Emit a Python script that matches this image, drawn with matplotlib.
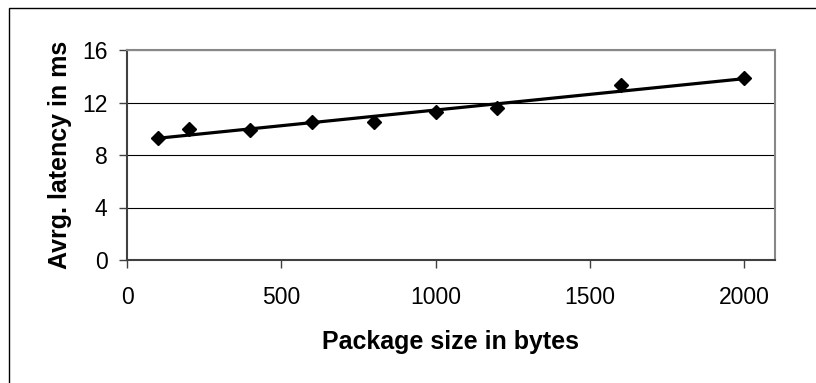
import matplotlib
matplotlib.use("Agg")
import matplotlib.pyplot as plt
import numpy as np
from matplotlib.patches import Rectangle

# values
package_size = [100, 200, 400, 600, 800, 1000, 1200, 1600, 2000]
avg_latency = [9.3, 9.95, 9.9, 10.5, 10.5, 11.3, 11.6, 13.3, 13.85]
x_ticks = [0, 500, 1000, 1500, 2000]
y_ticks = [0, 4, 8, 12, 16]

plt.rcParams["font.family"] = ["Liberation Sans", "DejaVu Sans"]

W, H = 816, 383
fig = plt.figure(figsize=(W / 100, H / 100), dpi=100)

# outer chart-area border (right and bottom edges run off the picture)
fig.patches.append(Rectangle((9 / W, -0.1), 1.2, (H - 8) / H + 0.1, transform=fig.transFigure,
                             fill=False, edgecolor="black", linewidth=1.0))

ax = fig.add_axes([127 / W, 1 - 260 / H, (775 - 127) / W, (260 - 50) / H])

# linear trend line through the points
coef = np.polyfit(package_size, avg_latency, 1)
x_fit = np.array([min(package_size), max(package_size)])
ax.plot(x_fit, np.polyval(coef, x_fit), color="black", linewidth=2.3, zorder=3)
ax.plot(package_size, avg_latency, linestyle="none", marker="D", markersize=6.8,
        color="black", zorder=4, clip_on=False)

ax.set_xlim(0, 2100)
ax.set_ylim(0, 16)
ax.set_xticks(x_ticks)
ax.set_yticks(y_ticks)
ax.yaxis.grid(True, color="black", linewidth=0.8)
ax.set_axisbelow(True)

for side in ("left", "bottom"):
    ax.spines[side].set_color("#404040")
    ax.spines[side].set_linewidth(1.5)
for side in ("top", "right"):
    ax.spines[side].set_color("#888888")
    ax.spines[side].set_linewidth(1.5)

ax.tick_params(axis="both", direction="out", length=6, width=1.0, color="#404040",
               labelsize=16.5, labelcolor="black")
ax.tick_params(axis="y", pad=8)
ax.tick_params(axis="x", pad=12.5)

ax.set_xlabel("Package size in bytes", fontsize=18, fontweight="bold", labelpad=15)
ax.set_ylabel("Avrg. latency in ms", fontsize=18, fontweight="bold", labelpad=7)

fig.savefig("out.png", dpi=100)
